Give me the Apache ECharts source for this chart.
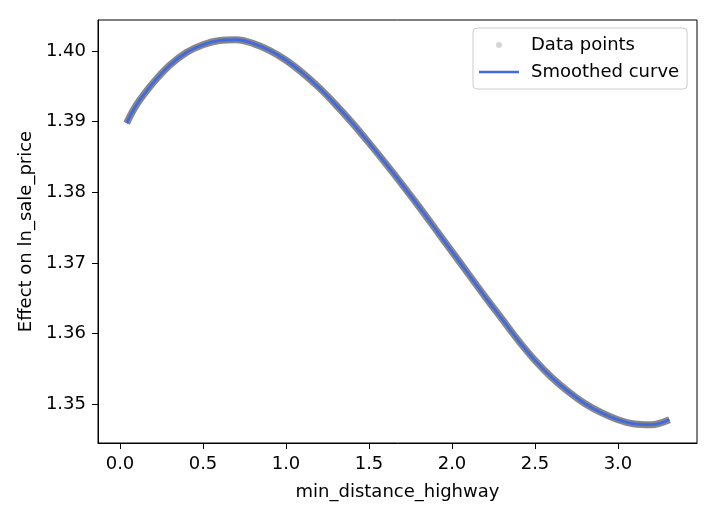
<!DOCTYPE html>
<html>
<head>
<meta charset="utf-8">
<script src="https://cdn.jsdelivr.net/npm/echarts@6/dist/echarts.min.js"></script>
<style>
html,body{margin:0;padding:0;background:#fff;}
#chart{width:715px;height:520px;}
</style>
</head>
<body>
<div id="chart"></div>
<script>
const distance = [0.04,0.1,0.2,0.3,0.4,0.5,0.6,0.7,0.8,0.9,1.0,1.1,1.2,1.3,1.4,1.5,1.6,1.7,1.8,1.9,2.0,2.1,2.2,2.3,2.4,2.5,2.6,2.7,2.8,2.9,3.0,3.1,3.2,3.31];
const pointEffect = [1.3898,1.3924,1.3955,1.3980,1.3998,1.4009,1.4015,1.4016,1.4011,1.4001,1.3987,1.3969,1.3948,1.3924,1.3898,1.3870,1.3841,1.3811,1.3780,1.3748,1.3716,1.3684,1.3652,1.3621,1.3590,1.3562,1.3538,1.3518,1.3501,1.3488,1.3478,1.3472,1.3471,1.3478];
const smoothEffect = [1.3898,1.3924,1.3955,1.3980,1.3998,1.4009,1.4015,1.4016,1.4011,1.4001,1.3987,1.3969,1.3948,1.3924,1.3898,1.3870,1.3841,1.3811,1.3780,1.3748,1.3716,1.3684,1.3652,1.3621,1.3590,1.3562,1.3538,1.3518,1.3501,1.3488,1.3478,1.3472,1.3471,1.3478];
const xTicks = [0.0,0.5,1.0,1.5,2.0,2.5,3.0];
const yTicks = [1.35,1.36,1.37,1.38,1.39,1.40];

const chart = echarts.init(document.getElementById('chart'), null, {renderer:'canvas'});
const font = 'DejaVu Sans';
const fs = 18;
const pts = distance.map((d,i)=>[d,pointEffect[i]]);
const sm = distance.map((d,i)=>[d,smoothEffect[i]]);

chart.setOption({
  animation:false,
  backgroundColor:'#ffffff',
  textStyle:{fontFamily:font},
  grid:{left:98,right:18,top:20,bottom:77,show:true,borderColor:'#000',borderWidth:1,backgroundColor:'transparent'},
  legend:{
    orient:'vertical',left:473,top:28,
    padding:[8,8,8,6],itemGap:9,itemWidth:40,itemHeight:6,
    backgroundColor:'#fff',borderColor:'#cccccc',borderWidth:1,borderRadius:4,
    textStyle:{fontFamily:font,fontSize:fs,color:'#000',padding:[0,0,0,7]},
    data:[
      {name:'Data points',icon:'circle',itemStyle:{color:'#d6d6d6',opacity:1}},
      {name:'Smoothed curve',icon:'path://M0,0 L40,0 L40,2.6 L0,2.6 Z',itemStyle:{color:'#4169E1'}}
    ]
  },
  xAxis:{
    type:'value',min:-0.1325,max:3.476,
    name:'min_distance_highway',nameLocation:'middle',nameGap:40,
    nameTextStyle:{fontFamily:font,fontSize:fs,color:'#000'},
    axisLine:{show:true,onZero:false,lineStyle:{color:'#000',width:1}},
    axisTick:{show:true,inside:false,length:6,customValues:xTicks,lineStyle:{color:'#000',width:1}},
    axisLabel:{customValues:xTicks,margin:12,fontFamily:font,fontSize:fs,color:'#000',formatter:v=>v.toFixed(1)},
    splitLine:{show:false}
  },
  yAxis:{
    type:'value',min:1.3445,max:1.4044,
    name:'Effect on ln_sale_price',nameLocation:'middle',nameGap:62,
    nameTextStyle:{fontFamily:font,fontSize:fs,color:'#000'},
    axisLine:{show:true,onZero:false,lineStyle:{color:'#000',width:1}},
    axisTick:{show:true,inside:false,length:6,customValues:yTicks,lineStyle:{color:'#000',width:1}},
    axisLabel:{customValues:yTicks,margin:12,fontFamily:font,fontSize:fs,color:'#000',formatter:v=>v.toFixed(2)},
    splitLine:{show:false}
  },
  series:[
    {name:'Data points',type:'line',data:pts,smooth:0.35,showSymbol:false,symbol:'none',
     lineStyle:{color:'#7a7a7a',width:7,opacity:0.9},itemStyle:{color:'#d6d6d6'},z:2},
    {name:'Smoothed curve',type:'line',data:sm,smooth:0.35,showSymbol:false,symbol:'none',
     lineStyle:{color:'#4169E1',width:2.8},itemStyle:{color:'#4169E1'},z:3}
  ]
});
</script>
</body>
</html>
